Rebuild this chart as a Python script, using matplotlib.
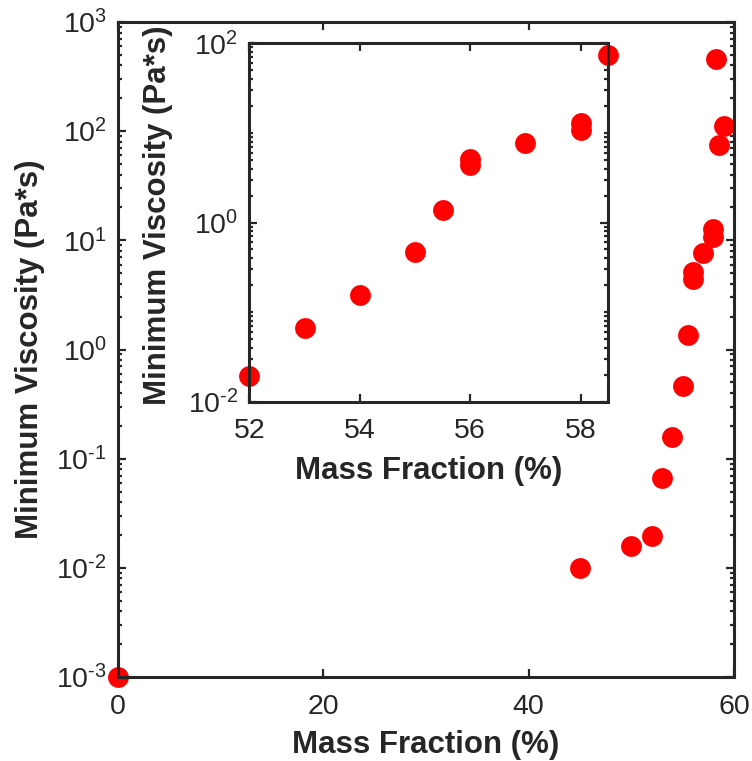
import numpy as np
import matplotlib
matplotlib.use("Agg")
import matplotlib.pyplot as plt
from matplotlib.ticker import LogLocator, NullFormatter, FixedLocator, FuncFormatter

# data
mass_fraction = [0, 45, 50, 52, 53, 54, 55, 55.5, 56, 56, 57, 58, 58, 58.5, 58.2, 59]
min_viscosity = [0.001, 0.0099, 0.0158, 0.0195, 0.067, 0.157, 0.465, 1.37,
                 5.1, 4.4, 7.7, 12.8, 10.8, 74, 460, 112]

main_xticks = [0, 20, 40, 60]
inset_xticks = [52, 54, 56, 58]

plt.rcParams["font.family"] = ["Liberation Sans", "DejaVu Sans"]
plt.rcParams["mathtext.fontset"] = "custom"
plt.rcParams["mathtext.rm"] = "Liberation Sans"

EDGE = "#262626"
RED = "#ff0000"
TICK_FS = 20.5
LABEL_FS = 22.5


def pow10(v, pos):
    n = int(round(np.log10(v)))
    exp = "\\text{-}%d" % -n if n < 0 else "%d" % n
    return "$\\mathdefault{10^{%s}}$" % exp


def style_axes(ax):
    for s in ax.spines.values():
        s.set_linewidth(2.2)
        s.set_color(EDGE)
    ax.tick_params(which="both", direction="in", top=True, right=True,
                   colors=EDGE, labelcolor=EDGE, labelsize=TICK_FS, width=1.6)
    ax.tick_params(which="major", length=6)
    ax.tick_params(which="minor", length=3)
    ax.tick_params(axis="x", pad=12)
    ax.tick_params(axis="y", pad=8)
    ax.yaxis.set_major_formatter(FuncFormatter(pow10))


fig = plt.figure(figsize=(7.52, 7.61), dpi=100)

# main axes
ax = fig.add_axes([118 / 752, 84 / 761, 616 / 752, 655 / 761])
ax.plot(mass_fraction, min_viscosity, "o", color=RED, ms=15, mec="none", clip_on=False)
ax.set_yscale("log")
ax.set_xlim(0, 60)
ax.set_ylim(1e-3, 1e3)
ax.set_xticks(main_xticks)
ax.yaxis.set_major_locator(LogLocator(base=10, numticks=10))
ax.yaxis.set_minor_locator(LogLocator(base=10, subs=np.arange(2, 10), numticks=100))
ax.yaxis.set_minor_formatter(NullFormatter())
style_axes(ax)
ax.set_xlabel("Mass Fraction (%)", fontsize=LABEL_FS, fontweight="bold", color=EDGE)
ax.set_ylabel("Minimum Viscosity (Pa*s)", fontsize=LABEL_FS, fontweight="bold", color=EDGE)
ax.xaxis.set_label_coords(0.5, -(745 - 677) / 655, transform=ax.transAxes)
ax.yaxis.set_label_coords(-(118 - 30) / 616, 0.5, transform=ax.transAxes)
ax.xaxis.label.set_va("center")
ax.yaxis.label.set_va("center")

# inset
ins = fig.add_axes([249.3 / 752, (761 - 401.7) / 761, 359 / 752, 358.4 / 761])
x = np.array(mass_fraction)
y = np.array(min_viscosity)
keep = (x >= 52) & (x <= 58.5) & (y >= 1e-2) & (y <= 1e2)
ins.plot(x[keep], y[keep], "o", color=RED, ms=15, mec="none", clip_on=False)
ins.set_yscale("log")
ins.set_xlim(52, 58.5)
ins.set_ylim(1e-2, 1e2)
ins.set_xticks(inset_xticks)
ins.yaxis.set_major_locator(FixedLocator([1e-2, 1e0, 1e2]))
minor = [m * 10.0 ** e for e in range(-2, 2) for m in range(1, 10) if not (m == 1 and e % 2 == 0)]
ins.yaxis.set_minor_locator(FixedLocator(minor))
ins.yaxis.set_minor_formatter(NullFormatter())
style_axes(ins)
ins.set_xlabel("Mass Fraction (%)", fontsize=LABEL_FS, fontweight="bold", color=EDGE)
ins.set_ylabel("Minimum Viscosity (Pa*s)", fontsize=LABEL_FS, fontweight="bold", color=EDGE)
ins.xaxis.set_label_coords(0.5, -(471 - 401.7) / 358.4, transform=ins.transAxes)
ins.yaxis.set_label_coords(-(249.3 - 158) / 359, 0.52, transform=ins.transAxes)
ins.xaxis.label.set_va("center")
ins.yaxis.label.set_va("center")

fig.savefig("out.png", dpi=100, facecolor="white")
